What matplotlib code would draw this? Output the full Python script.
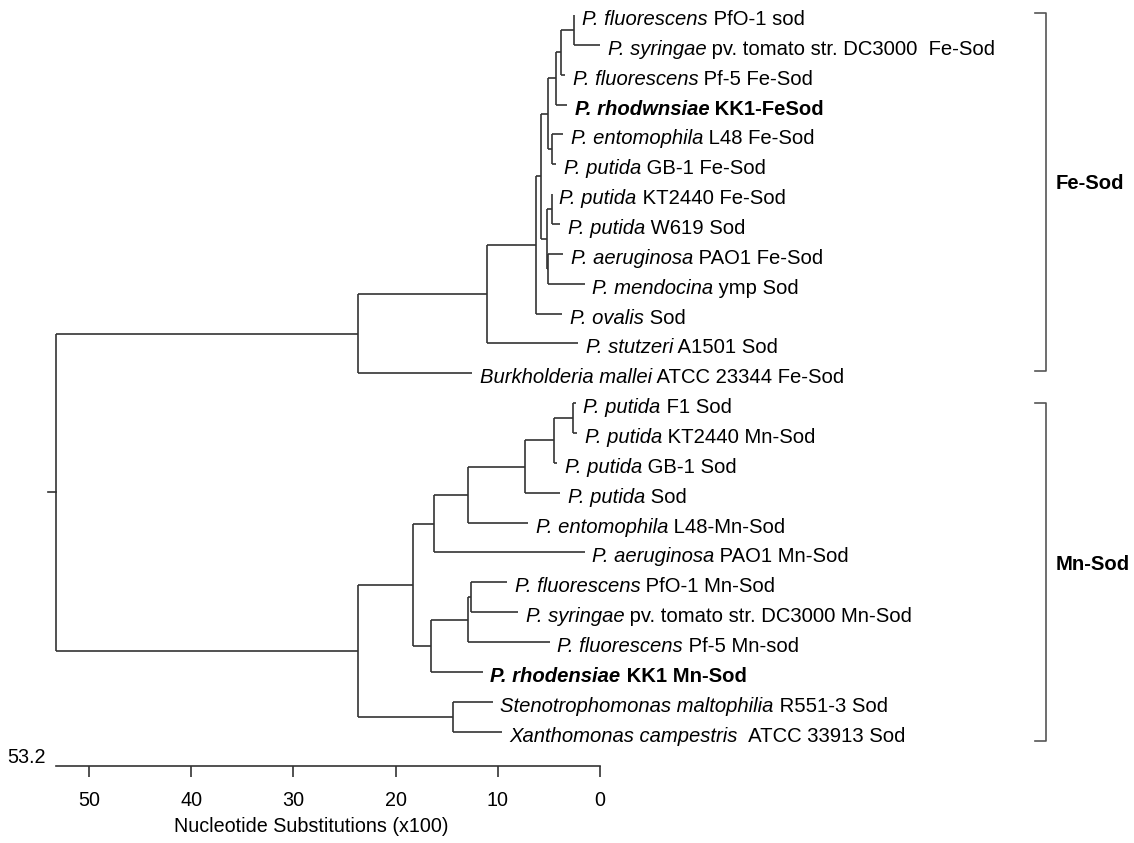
import matplotlib
matplotlib.use("Agg")
import matplotlib.pyplot as plt

plt.rcParams['font.family'] = ['Liberation Sans', 'DejaVu Sans']

# leaf labels (italic part + plain part), top to bottom
leaf_italic = ["P. fluorescens", "P. syringae", "P. fluorescens", "P. rhodwnsiae",
               "P. entomophila", "P. putida", "P. putida", "P. putida",
               "P. aeruginosa", "P. mendocina", "P. ovalis", "P. stutzeri",
               "Burkholderia mallei",
               "P. putida", "P. putida", "P. putida", "P. putida",
               "P. entomophila", "P. aeruginosa", "P. fluorescens", "P. syringae",
               "P. fluorescens", "P. rhodensiae", "Stenotrophomonas maltophilia",
               "Xanthomonas campestris"]
leaf_rest = [" PfO-1 sod", " pv. tomato str. DC3000  Fe-Sod", " Pf-5 Fe-Sod", " KK1-FeSod",
             " L48 Fe-Sod", " GB-1 Fe-Sod", " KT2440 Fe-Sod", " W619 Sod",
             " PAO1 Fe-Sod", " ymp Sod", " Sod", " A1501 Sod",
             " ATCC 23344 Fe-Sod",
             " F1 Sod", " KT2440 Mn-Sod", " GB-1 Sod", " Sod",
             " L48-Mn-Sod", " PAO1 Mn-Sod", " PfO-1 Mn-Sod", " pv. tomato str. DC3000 Mn-Sod",
             " Pf-5 Mn-sod", " KK1 Mn-Sod", " R551-3 Sod",
             "  ATCC 33913 Sod"]
bold_leaves = [3, 22]

# distance of each leaf tip (substitutions x100)
leaf_tip = [2.5, 0.0, 3.4, 3.2, 3.6, 4.3, 4.7, 3.9, 3.6, 1.5, 3.7, 2.15, 12.5,
            2.35, 2.25, 4.2, 3.9, 7.0, 1.5, 9.1, 8.0, 4.9, 11.45, 10.5, 9.6]

# internal nodes: leaves are 0-24, nodes numbered from 25 in this order
node_left = [0, 25, 26, 4, 27, 6, 8, 30, 29, 33, 34, 35,
             13, 37, 38, 39, 40, 19, 42, 43, 41, 23, 45, 36]
node_right = [1, 2, 3, 5, 28, 7, 9, 31, 32, 10, 11, 12,
              14, 15, 16, 17, 18, 20, 21, 22, 44, 24, 46, 47]
node_height = [2.5, 3.8, 4.35, 4.7, 5.05, 4.7, 5.05, 5.15, 5.75, 6.25, 11.05, 23.7,
               2.6, 4.5, 7.35, 12.9, 16.25, 12.6, 12.9, 16.55, 18.3, 14.4, 23.7, 53.2]

axis_ticks = [0, 10, 20, 30, 40, 50]
groups = ["Fe-Sod", "Mn-Sod"]
group_top = [-0.07, 13.0]
group_bottom = [11.93, 24.3]
group_label_y = [5.66, 18.42]

line_col = "#333333"
fs = 14.2
fs_leaf = 14.55

fig = plt.figure(figsize=(11.34, 8.43), dpi=100)
ax = fig.add_axes([0, 0, 1, 1])
ax.set_xlim(58.71, -52.25)
ax.set_ylim(27.73, -0.50)

n = len(leaf_tip)
ypos = list(range(n))
xpos = list(leaf_tip)
for k in range(len(node_height)):
    a, b = node_left[k], node_right[k]
    h = node_height[k]
    ya, yb = ypos[a], ypos[b]
    ax.plot([h, h], [ya, yb], color=line_col, lw=1.2, solid_capstyle='butt')
    ax.plot([h, xpos[a]], [ya, ya], color=line_col, lw=1.2, solid_capstyle='butt')
    ax.plot([h, xpos[b]], [yb, yb], color=line_col, lw=1.2, solid_capstyle='butt')
    ypos.append((ya + yb) / 2)
    xpos.append(h)

# root stub
root_y = ypos[-1]
ax.plot([node_height[-1], node_height[-1] + 0.8], [root_y, root_y], color=line_col, lw=1.2)

# leaf labels
for i in range(n):
    w = 'bold' if i in bold_leaves else 'normal'
    t1 = ax.annotate(leaf_italic[i], xy=(leaf_tip[i], i), xytext=(5.4, -7.2),
                     textcoords='offset points', ha='left', va='baseline',
                     style='italic', weight=w, fontsize=fs_leaf)
    ax.annotate(leaf_rest[i], xy=(1, 0), xycoords=t1, ha='left', va='bottom',
                weight=w, fontsize=fs_leaf)

# group brackets
tr = ax.get_yaxis_transform()
bx, bx0 = 1046 / 1134, 1035 / 1134
for g in range(len(groups)):
    ax.plot([bx0, bx, bx, bx0], [group_top[g], group_top[g], group_bottom[g], group_bottom[g]],
            color="#555555", lw=1.2, transform=tr)
    ax.text(1056 / 1134, group_label_y[g], groups[g], transform=tr, ha='left', va='center',
            weight='bold', fontsize=fs_leaf)

# scale axis
axis_y = 25.15
for s in ['left', 'top', 'right']:
    ax.spines[s].set_visible(False)
ax.spines['bottom'].set_position(('data', axis_y))
ax.spines['bottom'].set_bounds(0, node_height[-1])
ax.spines['bottom'].set_color(line_col)
ax.spines['bottom'].set_linewidth(1.2)
ax.set_yticks([])
ax.set_xticks(axis_ticks)
ax.tick_params(axis='x', direction='out', length=8, width=1.2, color=line_col,
               pad=10, labelsize=fs)
ax.set_xlabel("Nucleotide Substitutions (x100)", fontsize=fs, labelpad=5)
ax.xaxis.label.set_x(311 / 1134)
ax.annotate("53.2", xy=(node_height[-1], axis_y), xytext=(-7.5, 2),
            textcoords='offset points', ha='right', va='baseline', fontsize=fs)

fig.savefig("out.png", dpi=100)
